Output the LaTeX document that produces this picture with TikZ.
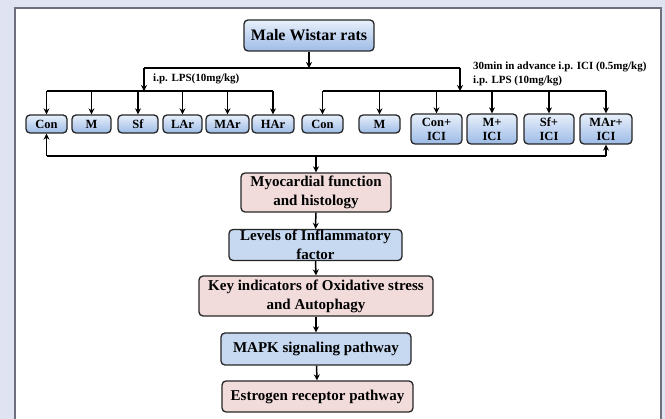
\documentclass[tikz,border=0pt]{standalone}
\usepackage{fontspec}
\setmainfont{Liberation Serif}
\usetikzlibrary{arrows.meta}
\definecolor{bgpurple}{HTML}{DFE3F2}
\definecolor{panelgrey}{HTML}{6E6E7C}
\definecolor{bluetop}{HTML}{E8F0FB}
\definecolor{bluebot}{HTML}{9DBBE6}
\definecolor{blueflat}{HTML}{C6D9F1}
\definecolor{pinkflat}{HTML}{F2DCDB}
\begin{document}
\begin{tikzpicture}[x=1pt,y=-1pt,
    box/.style={draw=black!85,line width=1.3pt,rounded corners=4pt,
      font=\bfseries\fontsize{12.5}{14}\selectfont,align=center,inner sep=1pt},
    grad/.style={box,top color=bluetop,bottom color=bluebot},
    bluebox/.style={box,fill=blueflat,font=\bfseries\fontsize{15}{19}\selectfont},
    pinkbox/.style={box,fill=pinkflat,font=\bfseries\fontsize{15}{19}\selectfont},
    lbl/.style={font=\bfseries\fontsize{11}{14}\selectfont,anchor=west,inner sep=0pt,align=left},
    arr/.style={-{Stealth[length=6pt,width=6pt]},line width=1.5pt},
    ln/.style={line width=1.5pt}]
  % background and panel
  \useasboundingbox (0,0) rectangle (665,419);
  \clip (0,0) rectangle (665,419);
  \fill[bgpurple] (0,0) rectangle (665,419);
  \draw[fill=white,draw=panelgrey,line width=1.5pt] (15,8) rectangle (661,440);
  % top
  \node[grad,minimum width=130,minimum height=31,font=\bfseries\fontsize{16}{18}\selectfont]
    (rats) at (309,35.5) {Male Wistar rats};
  \coordinate (tl) at (144,68);
  \coordinate (tr) at (460,68);
  \coordinate (tm) at (309,68);
  \coordinate (ll) at (144,91);
  \coordinate (rr) at (460,91);
  \coordinate (row) at (0,91);
  \coordinate (back) at (0,156);
  % groups
  \node[grad,minimum width=41,minimum height=18] (con) at (46.5,124) {Con};
  \node[grad,minimum width=39,minimum height=18] (m) at (91.5,124) {M};
  \node[grad,minimum width=40,minimum height=18] (sf) at (138,124) {Sf};
  \node[grad,minimum width=39,minimum height=18] (lar) at (182.5,124) {LAr};
  \node[grad,minimum width=43,minimum height=18] (mar) at (227.5,124) {MAr};
  \node[grad,minimum width=42,minimum height=18] (har) at (273,124) {HAr};
  \node[grad,minimum width=41,minimum height=18] (coni) at (322.5,124) {Con};
  \node[grad,minimum width=41,minimum height=18] (mi) at (379.5,124) {M};
  \node[grad,minimum width=51,minimum height=30] (conici) at (436.5,129) {Con+\\ICI};
  \node[grad,minimum width=50,minimum height=30] (mici) at (492,129) {M+\\ICI};
  \node[grad,minimum width=50,minimum height=30] (sfici) at (549,129) {Sf+\\ICI};
  \node[grad,minimum width=52,minimum height=30] (marici) at (606,129) {MAr+\\ICI};
  % labels
  \node[lbl] (lps) at (153,79) {i.p. LPS(10mg/kg)};
  \node[lbl] (ici) at (473,74) {30min in advance i.p. ICI (0.5mg/kg)\\i.p. LPS (10mg/kg)};
  % outcomes
  \node[pinkbox,minimum width=150,minimum height=39] (myo) at (316,192.5) {Myocardial function\\and histology};
  \node[bluebox,minimum width=173,minimum height=31,inner ysep=-3pt] (infl) at (315.5,245) {Levels of Inflammatory\\factor};
  \node[pinkbox,minimum width=234,minimum height=40] (key) at (316,296) {Key indicators of Oxidative stress\\and Autophagy};
  \node[bluebox,minimum width=190,minimum height=32] (mapk) at (316,349) {MAPK signaling pathway};
  \node[pinkbox,minimum width=191,minimum height=31] (estr) at (317.5,396.5) {Estrogen receptor pathway};
  % connectors
  \draw[arr] (rats.south -| tm) -- (tm);
  \draw[ln] (tl) -- (tr);
  \draw[arr] (tl) -- (ll);
  \draw[arr] (tr) -- (rr);
  \draw[ln] (con |- row) -- (har |- row);
  \draw[ln] (coni |- row) -- (marici |- row);
  \foreach \n in {con,m,sf,lar,mar,har,coni,mi,conici,mici,sfici,marici}
    \draw[arr] (\n |- row) -- (\n.north);
  \draw[ln] (con |- back) -- (marici |- back);
  \draw[arr] (con |- back) -- (con.south);
  \draw[arr] (marici |- back) -- (marici.south);
  \draw[arr] (myo |- back) -- (myo.north);
  \draw[arr] (myo) -- (infl);
  \draw[arr] (infl.south) -- (key.north);
  \draw[arr] (key) -- (mapk);
  \draw[arr] (mapk) -- (estr);
\end{tikzpicture}
\end{document}
